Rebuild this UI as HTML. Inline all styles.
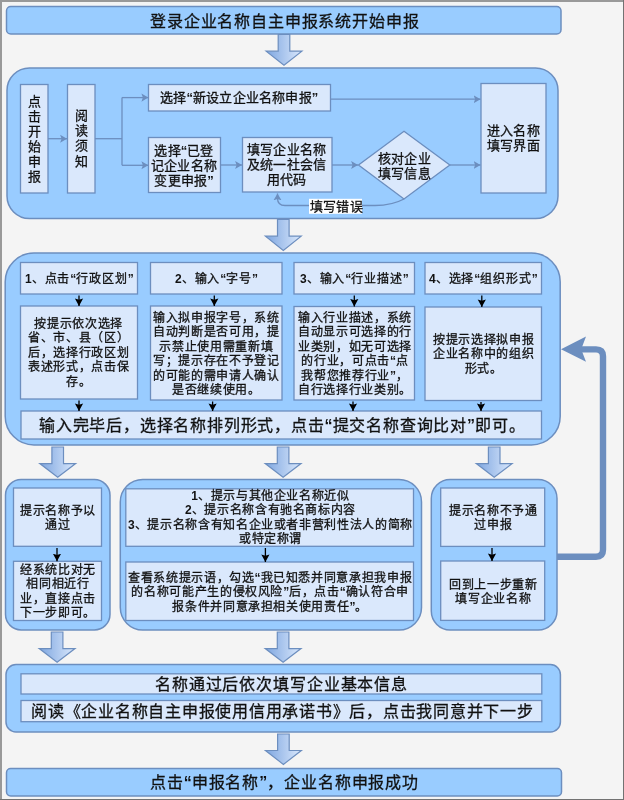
<!DOCTYPE html>
<html lang="zh-CN">
<head>
<meta charset="utf-8">
<style>
html,body{margin:0;padding:0;}
body{width:624px;height:800px;position:relative;overflow:hidden;background:#f4f4f4;font-family:"Liberation Sans",sans-serif;color:#111;}
svg{position:absolute;left:0;top:0;}
.t{position:absolute;display:flex;align-items:center;justify-content:center;text-align:center;white-space:nowrap;}
.t>div{position:relative;top:1px;will-change:transform;}
.s13{font-size:13px;line-height:15px;letter-spacing:0.2px;}
.s125{font-size:12px;line-height:14.4px;letter-spacing:0.65px;}
.lq,.rq,.d{font-weight:bold;-webkit-text-stroke:0;letter-spacing:0;}
.b{letter-spacing:0.85px;}
.s13>div{top:0;}
.s17{font-size:16px;line-height:20px;letter-spacing:0.87px;}
.t{-webkit-text-stroke:0.3px #111;}
</style>
</head>
<body>
<svg width="624" height="800" viewBox="0 0 624 800">
<defs>
<linearGradient id="ag" x1="0" y1="0" x2="1" y2="0">
<stop offset="0" stop-color="#7ea6e0"/>
<stop offset="1" stop-color="#dae8fc"/>
</linearGradient>
<marker id="mh" markerWidth="10" markerHeight="10" refX="6.9" refY="5" orient="auto" markerUnits="userSpaceOnUse">
<path d="M0,0.95 L6.9,5 L0,9.05 L1.5,5 Z" fill="#6c8ebf"/>
</marker>
<marker id="mk" markerWidth="10" markerHeight="10" refX="7.6" refY="5" orient="auto" markerUnits="userSpaceOnUse">
<path d="M0,0.9 L7.6,5 L0,9.1 L1.3,5 Z" fill="#000"/>
</marker>
</defs>
<!-- frame -->
<rect x="0" y="0" width="624" height="800" fill="#f4f4f4"/>
<rect x="0" y="0" width="2" height="800" fill="#999"/>
<rect x="0" y="0" width="624" height="2" fill="#999"/>
<rect x="623" y="0" width="1" height="800" fill="#727272"/>
<rect x="0" y="799" width="624" height="1" fill="#727272"/>

<g fill="#99ccff" stroke="#6c8ebf" stroke-width="1.5">
<!-- title -->
<rect x="6.5" y="6.5" width="554.5" height="27.5" rx="4.3"/>
<!-- section 2 -->
<rect x="7" y="68" width="551" height="150.5" rx="22.5"/>
<!-- section 3 -->
<rect x="5.2" y="253" width="555" height="192" rx="28.8"/>
<!-- section 4 -->
<rect x="5.5" y="479.5" width="104.5" height="150.5" rx="15.7"/>
<rect x="120.3" y="479.5" width="301.2" height="150.5" rx="22.5"/>
<rect x="431.3" y="479.5" width="125.7" height="150.5" rx="18.9"/>
<!-- section 5 -->
<rect x="6" y="664.5" width="554.4" height="67.5" rx="10"/>
<!-- final -->
<rect x="6.5" y="768.5" width="555" height="27.5" rx="4.2"/>
</g>

<g fill="#dae8fc" stroke="#6c8ebf" stroke-width="1.3">
<!-- sec2 -->
<rect x="20.5" y="84.5" width="27.5" height="108.5"/>
<rect x="67.5" y="84.5" width="27.5" height="108.5"/>
<rect x="148.5" y="84.5" width="182" height="26.5"/>
<rect x="148.5" y="137.5" width="72" height="55"/>
<rect x="242.5" y="137.5" width="89.5" height="54.5"/>
<rect x="481" y="83.5" width="65" height="109.5"/>
<path d="M404,131.3 L449.8,165 L404,199 L358.5,165 Z"/>
<!-- sec3 -->
<rect x="20.5" y="262.5" width="117" height="31.5"/>
<rect x="150.5" y="262.5" width="131.5" height="31.5"/>
<rect x="294" y="262.5" width="120.5" height="31.5"/>
<rect x="425" y="262.5" width="116.5" height="31.5"/>
<rect x="20.5" y="306" width="117" height="93"/>
<rect x="150.5" y="306" width="131.5" height="94"/>
<rect x="294" y="306.5" width="120.5" height="93.5"/>
<rect x="425" y="307" width="116.5" height="93.5"/>
<rect x="21" y="411" width="520.5" height="28"/>
<!-- sec4 -->
<rect x="13.5" y="488" width="88" height="58.3"/>
<rect x="13.5" y="561.3" width="88" height="59.2"/>
<rect x="125.8" y="488.8" width="287.7" height="57.5"/>
<rect x="125.8" y="562" width="287.7" height="58.5"/>
<rect x="440.7" y="488" width="104" height="58.4"/>
<rect x="440.7" y="561" width="104" height="59.4"/>
<!-- sec5 -->
<rect x="21" y="673.8" width="520.8" height="20.2"/>
<rect x="21" y="700.5" width="520.8" height="21.2"/>
</g>

<!-- fat arrows -->
<g fill="url(#ag)" stroke="#6c8ebf" stroke-width="1.2" stroke-linejoin="miter">
<path d="M278.2,34.5 L289.8,34.5 L289.8,51.2 L301.9,51.2 L284,65.3 L266.1,51.2 L278.2,51.2 Z"/>
<path d="M277.5,219.5 L289.1,219.5 L289.1,236.2 L301.2,236.2 L283.3,250.5 L265.4,236.2 L277.5,236.2 Z"/>
<path d="M51.9,447 L63.5,447 L63.5,463.6 L75.6,463.6 L57.7,477.3 L39.8,463.6 L51.9,463.6 Z"/>
<path d="M277.3,447 L288.9,447 L288.9,463.6 L301,463.6 L283.1,477.3 L265.2,463.6 L277.3,463.6 Z"/>
<path d="M488.4,447 L500,447 L500,463.6 L512.1,463.6 L494.2,477.3 L476.3,463.6 L488.4,463.6 Z"/>
<path d="M51.3,632 L62.9,632 L62.9,648.6 L75,648.6 L57.1,662.3 L39.2,648.6 L51.3,648.6 Z"/>
<path d="M277.3,632 L288.9,632 L288.9,648.6 L301,648.6 L283.1,662.3 L265.2,648.6 L277.3,648.6 Z"/>
<path d="M277.6,734 L289.2,734 L289.2,750.5 L301.3,750.5 L283.4,764.4 L265.5,750.5 L277.6,750.5 Z"/>
</g>

<!-- connectors section 2 -->
<g fill="none" stroke="#6c8ebf" stroke-width="1.3">
<path d="M48,138.7 L67,138.7" marker-end="url(#mh)"/>
<path d="M95,138.7 L122,138.7"/>
<path d="M122,97.6 L122,165.3"/>
<path d="M122,97.6 L148.3,97.6" marker-end="url(#mh)"/>
<path d="M122,165.3 L148.3,165.3" marker-end="url(#mh)"/>
<path d="M330.5,99.2 L480.5,99.2" marker-end="url(#mh)"/>
<path d="M220.5,165 L242,165" marker-end="url(#mh)"/>
<path d="M332,165 L358,165" marker-end="url(#mh)"/>
<path d="M449.8,165 L480.5,165" marker-end="url(#mh)"/>
<path d="M404,199 Q392,205.5 375,205.5 L285,205.5 Q277.5,205.5 277.5,198 L277.5,193.5" marker-end="url(#mh)"/>
<!-- big return arrow -->
</g>
<rect x="309" y="198.8" width="53" height="15" fill="#fff"/>
<path d="M557,556.7 L596,556.7 Q603,556.7 603,549.7 L603,356.3 Q603,349.4 596,349.4 L576,349.4" fill="none" stroke="#6c8ebf" stroke-width="6.4"/>
<path d="M561,349.3 L586,336.4 L581.2,349.3 L586,361.8 Z" fill="#6c8ebf"/>

<!-- black arrows -->
<g fill="none" stroke="#000" stroke-width="1.3">
<path d="M79,295.5 L79,306" marker-end="url(#mk)"/>
<path d="M214.3,295.5 L214.3,306" marker-end="url(#mk)"/>
<path d="M354.3,295.5 L354.3,306.5" marker-end="url(#mk)"/>
<path d="M481.8,295.5 L481.8,307" marker-end="url(#mk)"/>
<path d="M79,400.5 L79,411" marker-end="url(#mk)"/>
<path d="M212.6,401.5 L212.6,411" marker-end="url(#mk)"/>
<path d="M353,401.5 L353,411" marker-end="url(#mk)"/>
<path d="M481,402 L481,411" marker-end="url(#mk)"/>
<path d="M57,548 L57,561.3" marker-end="url(#mk)"/>
<path d="M265.4,548 L265.4,562" marker-end="url(#mk)"/>
<path d="M492,548 L492,561" marker-end="url(#mk)"/>
</g>
</svg>

<!-- texts -->
<div class="t s17" style="left:6px;top:7px;width:558px;height:28px;letter-spacing:0.85px;"><div>登录企业名称自主申报系统开始申报</div></div>

<div class="t s13" style="left:20.5px;top:84.8px;width:28px;height:109px;line-height:15.1px;"><div>点<br>击<br>开<br>始<br>申<br>报</div></div>
<div class="t s13" style="left:67.5px;top:84px;width:28px;height:109px;line-height:15.2px;"><div>阅<br>读<br>须<br>知</div></div>
<div class="t s13" style="left:148px;top:84px;width:182px;height:27px;"><div>选择<span class="lq">“</span>新设立企业名称申报<span class="rq">”</span></div></div>
<div class="t s13" style="left:148px;top:137px;width:72px;height:56px;"><div>选择<span class="lq">“</span>已登<br>记企业名称<br>变更申报<span class="rq">”</span></div></div>
<div class="t s13" style="left:242px;top:137px;width:90px;height:55px;"><div>填写企业名称<br>及统一社会信<br>用代码</div></div>
<div class="t s13" style="left:358px;top:132.3px;width:92px;height:68px;line-height:15.3px;"><div>核对企业<br>填写信息</div></div>
<div class="t s13" style="left:481px;top:83px;width:65px;height:110px;"><div>进入名称<br>填写界面</div></div>
<div class="t s13" style="left:309.5px;top:199px;width:53px;height:15px;"><div>填写错误</div></div>

<div class="t s125 b" style="left:20px;top:262px;width:118px;height:32px;"><div><span class="d">1</span>、点击<span class="lq">“</span>行政区划<span class="rq">”</span></div></div>
<div class="t s125 b" style="left:150px;top:262px;width:132px;height:32px;"><div><span class="d">2</span>、输入<span class="lq">“</span>字号<span class="rq">”</span></div></div>
<div class="t s125 b" style="left:294px;top:262px;width:121px;height:32px;"><div><span class="d">3</span>、输入<span class="lq">“</span>行业描述<span class="rq">”</span></div></div>
<div class="t s125 b" style="left:425px;top:262px;width:117px;height:32px;"><div><span class="d">4</span>、选择<span class="lq">“</span>组织形式<span class="rq">”</span></div></div>

<div class="t s125" style="left:20px;top:306px;width:118px;height:93px;"><div>按提示依次选择<br>省、市、县（区）<br>后，选择行政区划<br>表述形式，点击保<br>存。</div></div>
<div class="t s125" style="left:150px;top:306px;width:132px;height:94px;"><div>输入拟申报字号，系统<br>自动判断是否可用，提<br>示禁止使用需重新填<br>写；提示存在不予登记<br>的可能的需申请人确认<br>是否继续使用。</div></div>
<div class="t s125" style="left:294px;top:306px;width:121px;height:94px;"><div>输入行业描述，系统<br>自动显示可选择的行<br>业类别，如无可选择<br>的行业，可点击<span class="lq">“</span>点<br>我帮您推荐行业<span class="rq">”</span>，<br>自行选择行业类别。</div></div>
<div class="t s125" style="left:425px;top:307px;width:117px;height:94px;"><div>按提示选择拟申报<br>企业名称中的组织<br>形式。</div></div>
<div class="t s17" style="left:22px;top:411px;width:521px;height:28px;letter-spacing:0.8px;"><div>输入完毕后，选择名称排列形式，点击<span class="lq">“</span>提交名称查询比对<span class="rq">”</span>即可。</div></div>

<div class="t s125" style="left:13px;top:488px;width:89px;height:58px;"><div>提示名称予以<br>通过</div></div>
<div class="t s125" style="left:13px;top:561px;width:89px;height:60px;"><div>经系统比对无<br>相同相近行<br>业，直接点击<br>下一步即可。</div></div>
<div class="t s125" style="left:126px;top:488px;width:288px;height:58px;"><div><span class="d">1</span>、提示与其他企业名称近似<br><span class="d">2</span>、提示名称含有驰名商标内容<br><span class="d">3</span>、提示名称含有知名企业或者非营利性法人的简称<br>或特定称谓</div></div>
<div class="t s125" style="left:126px;top:562px;width:288px;height:59px;"><div>查看系统提示语，勾选<span class="lq">“</span>我已知悉并同意承担我申报<br>的名称可能产生的侵权风险<span class="rq">”</span>后，点击<span class="lq">“</span>确认符合申<br>报条件并同意承担相关使用责任<span class="rq">”</span>。</div></div>
<div class="t s125" style="left:441px;top:488px;width:104px;height:58px;"><div>提示名称不予通<br>过申报</div></div>
<div class="t s125" style="left:441px;top:561px;width:104px;height:60px;"><div>回到上一步重新<br>填写企业名称</div></div>

<div class="t s17" style="left:21px;top:674px;width:521px;height:20px;"><div>名称通过后依次填写企业基本信息</div></div>
<div class="t s17" style="left:22px;top:700px;width:521px;height:22px;letter-spacing:0.75px;"><div>阅读《企业名称自主申报使用信用承诺书》后，点击我同意并下一步</div></div>
<div class="t s17" style="left:7px;top:768px;width:556px;height:28px;"><div>点击<span class="lq">“</span>申报名称<span class="rq">”</span>，企业名称申报成功</div></div>
</body>
</html>
